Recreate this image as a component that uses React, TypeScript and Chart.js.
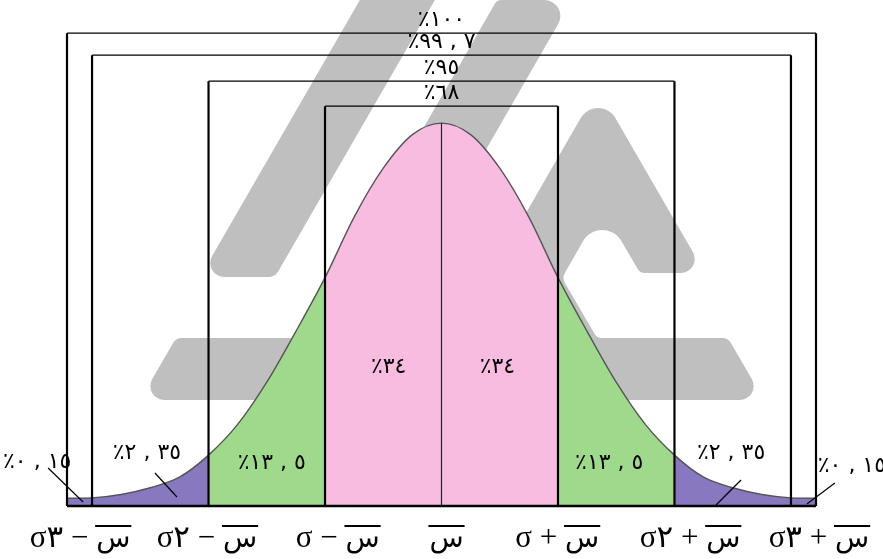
import React, { useEffect, useRef } from "react";
import { Chart, registerables } from "chart.js";

Chart.register(...registerables);

// Normal curve: x in σ units from the mean, y = density
const curveZ = [-3.215, -3, -2.75, -2.5, -2.25, -2, -1.75, -1.5, -1.25, -1, -0.75, -0.5, -0.25, 0,
  0.25, 0.5, 0.75, 1, 1.25, 1.5, 1.75, 2, 2.25, 2.5, 2.75, 3, 3.215];
const curveY = [0.008, 0.0085, 0.012, 0.019, 0.03, 0.053, 0.085, 0.129, 0.182, 0.238, 0.301, 0.352, 0.387, 0.399,
  0.387, 0.352, 0.301, 0.238, 0.182, 0.129, 0.085, 0.053, 0.03, 0.019, 0.012, 0.0085, 0.008];

// shaded regions
const regionBounds = [-3.215, -2, -1, 1, 2, 3.215];
const regionColors = ["#8778bf", "#9fda8c", "#f8bce1", "#9fda8c", "#8778bf"];

// brackets (half width in σ, top level, percentage)
const bracketHalf = [3.215, 3, 2, 1];
const bracketTop = [0.4927, 0.4698, 0.4427, 0.4167];
const bracketPct = [100, 99.7, 95, 68];

// area percentages and their label anchors
const areaPct = [0.15, 2.35, 13.5, 34, 34, 13.5, 2.35, 0.15];
const areaLabelX = [-3.471, -2.529, -1.457, -0.454, 0.48, 1.44, 2.486, 3.523];
const areaLabelY = [0.0458, 0.0552, 0.0448, 0.1448, 0.1448, 0.0448, 0.0552, 0.0417];

// leader lines: [x1, y1, x2, y2] in data units
const leaderLines = [
  [-3.377, 0.0396, -3.077, 0.0042],
  [-2.46, 0.0344, -2.271, 0.0094],
  [2.571, 0.0271, 2.357, 0.001],
  [3.377, 0.024, 3.137, 0.0021],
];

// tick labels (σ multiples) and their anchors
const tickSigma = [-3, -2, -1, 0, 1, 2, 3];
const tickLabelX = [-3.103, -2.014, -0.891, 0.043, 0.994, 2.134, 3.24];

const AR = "٠١٢٣٤٥٦٧٨٩";
const LRO = "\u202D";
const PDF = "\u202C";
function arNum(n: number): string {
  return String(n)
    .split("")
    .map((c) => (c === "." ? " , " : AR[+c]))
    .join("");
}
function pctText(n: number): string {
  return LRO + "٪" + arNum(n) + PDF;
}

type Pt = [number, number];
function roundedPoly(ctx: CanvasRenderingContext2D, pts: Pt[], radii: number[]) {
  const n = pts.length;
  ctx.beginPath();
  const a = pts[n - 1];
  const b = pts[0];
  ctx.moveTo((a[0] + b[0]) / 2, (a[1] + b[1]) / 2);
  for (let i = 0; i < n; i++) {
    const p = pts[i];
    const q = pts[(i + 1) % n];
    ctx.arcTo(p[0], p[1], q[0], q[1], radii[i]);
  }
  ctx.closePath();
  ctx.fill();
}

const watermark = {
  id: "watermark",
  beforeDatasetsDraw(chart: any) {
    const ctx: CanvasRenderingContext2D = chart.ctx;
    ctx.save();
    ctx.fillStyle = "#bfbfbf";
    // left slash
    roundedPoly(ctx, [[200, 277], [275, 277], [458, -40], [383, -40]], [14, 12, 0, 0]);
    // second slash
    roundedPoly(ctx, [[497, 0], [572, 0], [411, 280], [336, 280]], [8, 16, 10, 10]);
    // A shape with bar
    roundedPoly(
      ctx,
      [
        [598, 88], [705, 273], [640, 273], [602, 208], [562, 278], [597, 338],
        [728, 338], [764, 400], [140, 400], [176, 338], [454, 338],
      ],
      [20, 14, 8, 22, 10, 8, 10, 14, 14, 10, 0]
    );
    ctx.restore();
  },
};

const labels = {
  id: "labels",
  afterDatasetsDraw(chart: any) {
    const ctx: CanvasRenderingContext2D = chart.ctx;
    const xs = chart.scales.x;
    const ys = chart.scales.y;
    ctx.save();
    ctx.fillStyle = "#000";
    ctx.textAlign = "center";
    ctx.textBaseline = "middle";
    ctx.font = "22px 'DejaVu Sans'";
    // bracket labels
    bracketPct.forEach((p, i) => {
      const y = ys.getPixelForValue(bracketTop[i]) - 13;
      ctx.fillText(pctText(p), xs.getPixelForValue(0), y);
    });
    // area labels
    areaPct.forEach((p, i) => {
      ctx.fillText(pctText(p), xs.getPixelForValue(areaLabelX[i]), ys.getPixelForValue(areaLabelY[i]));
    });
    // leader lines
    ctx.strokeStyle = "#000";
    ctx.lineWidth = 1.2;
    leaderLines.forEach((l) => {
      ctx.beginPath();
      ctx.moveTo(xs.getPixelForValue(l[0]), ys.getPixelForValue(l[1]));
      ctx.lineTo(xs.getPixelForValue(l[2]), ys.getPixelForValue(l[3]));
      ctx.stroke();
    });
    // tick labels
    ctx.textAlign = "left";
    ctx.textBaseline = "alphabetic";
    const base = ys.getPixelForValue(0) + 41;
    const fPre = "31px 'Liberation Serif', 'DejaVu Sans'";
    const fS = "28px 'DejaVu Sans'";
    tickSigma.forEach((k, i) => {
      const prefix =
        k === 0 ? "" : LRO + "σ" + (Math.abs(k) > 1 ? AR[Math.abs(k)] : "") + (k < 0 ? " − " : " + ") + PDF;
      ctx.font = fPre;
      const wp = prefix ? ctx.measureText(prefix).width : 0;
      ctx.font = fS;
      const ws = ctx.measureText("س").width;
      const total = wp + ws;
      const cx = xs.getPixelForValue(tickLabelX[i]);
      let x = cx - total / 2;
      if (prefix) {
        ctx.font = fPre;
        ctx.fillText(prefix, x, base);
      }
      x += wp;
      ctx.font = fS;
      ctx.fillText("س", x, base);
      ctx.fillRect(x - 1, base - 22, ws + 2, 2);
    });
    ctx.restore();
  },
};

function buildConfig(): any {
  const curve = curveZ.map((z, i) => ({ x: z, y: curveY[i] }));
  const datasets: any[] = [];
  regionColors.forEach((color, r) => {
    const lo = regionBounds[r];
    const hi = regionBounds[r + 1];
    datasets.push({
      data: curve.filter((p) => p.x >= lo - 1e-9 && p.x <= hi + 1e-9),
      borderWidth: 0,
      borderColor: "rgba(0,0,0,0)",
      backgroundColor: color,
      fill: "origin",
      cubicInterpolationMode: "monotone",
      pointRadius: 0,
      order: 20,
    });
  });
  datasets.push({
    data: curve,
    borderWidth: 1.4,
    borderColor: "#555555",
    fill: false,
    cubicInterpolationMode: "monotone",
    pointRadius: 0,
    order: 10,
  });
  bracketHalf.forEach((h, i) => {
    datasets.push({
      data: [
        { x: -h, y: 0 },
        { x: -h, y: bracketTop[i] },
        { x: h, y: bracketTop[i] },
        { x: h, y: 0 },
      ],
      borderColor: "#000",
      borderWidth: 2,
      segment: {
        borderWidth: (c: any) => (c.p0.parsed.y === c.p1.parsed.y ? 1.3 : 2.2),
      },
      fill: false,
      tension: 0,
      pointRadius: 0,
      clip: false,
      order: 5,
    });
  });
  datasets.push({
    data: [
      { x: 0, y: 0 },
      { x: 0, y: curveY[curveZ.indexOf(0)] },
    ],
    borderColor: "#222",
    borderWidth: 1.2,
    fill: false,
    pointRadius: 0,
    order: 3,
  });
  datasets.push({
    data: [
      { x: regionBounds[0], y: 0 },
      { x: regionBounds[regionBounds.length - 1], y: 0 },
    ],
    borderColor: "#000",
    borderWidth: 2.5,
    fill: false,
    pointRadius: 0,
    clip: false,
    order: 1,
  });

  return {
    type: "line",
    data: { datasets },
    options: {
      animation: false,
      responsive: false,
      maintainAspectRatio: false,
      layout: { padding: { left: 67, right: 67, top: 7, bottom: 53 } },
      scales: {
        x: { type: "linear", min: regionBounds[0], max: regionBounds[regionBounds.length - 1], display: false },
        y: { type: "linear", min: 0, max: 0.52, display: false },
      },
      plugins: { legend: { display: false }, tooltip: { enabled: false } },
      elements: { point: { radius: 0 } },
    },
    plugins: [watermark, labels],
  };
}

export default function App() {
  const ref = useRef<HTMLCanvasElement>(null);
  useEffect(() => {
    document.body.style.margin = "0";
    const chart = new Chart(ref.current as HTMLCanvasElement, buildConfig());
    return () => chart.destroy();
  }, []);
  return <canvas ref={ref} width={883} height={559} style={{ display: "block" }} />;
}
